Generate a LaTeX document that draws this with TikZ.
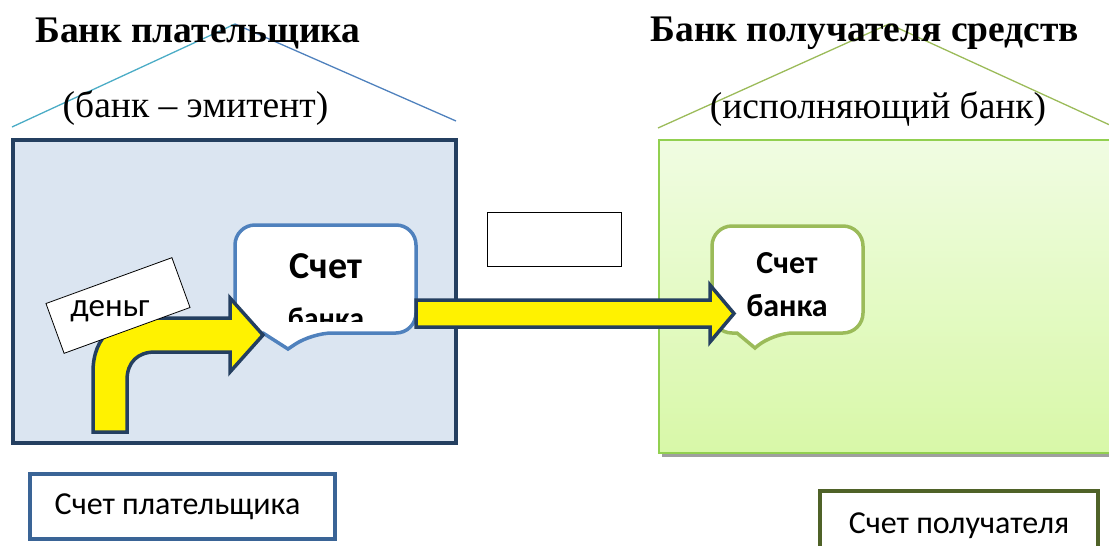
\documentclass[tikz,border=0pt]{standalone}
\usepackage{fontspec}
\setmainfont{Liberation Serif}
\newfontfamily\calib{Carlito}
\definecolor{navy}{HTML}{243F60}
\definecolor{payfill}{HTML}{DBE5F1}
\definecolor{roofteal}{HTML}{4BACC6}
\definecolor{roofblue}{HTML}{4F81BD}
\definecolor{leafgreen}{HTML}{9BBB59}
\definecolor{brightgreen}{HTML}{92D050}
\definecolor{greentop}{HTML}{F0FCE2}
\definecolor{greenbot}{HTML}{D8F8A8}
\definecolor{accblue}{HTML}{3A6496}
\definecolor{olive}{HTML}{4F6228}
\tikzset{
  title/.style={font=\fontsize{37.5}{42}\selectfont\bfseries, inner sep=0pt},
  subtitle/.style={font=\fontsize{37.5}{42}\selectfont, inner sep=0pt},
  blockarrow/.style={fill=yellow, draw=navy, line width=3.5pt, line join=miter},
  calloutbox/.style={fill=white, line width=3.5pt, rounded corners=20pt},
  accbox/.style={draw, fill=white, line width=3.5pt, inner sep=0pt},
  acctext/.style={font=\calib\fontsize{32}{36}\selectfont, inner sep=0pt},
}
\begin{document}
\begin{tikzpicture}[x=1pt,y=-1pt]
\useasboundingbox (0,0) rectangle (1109,546);
\clip (0,0) rectangle (1109,546);

% payer's bank: roof and body
\coordinate (lroofL) at (12,127);
\coordinate (lroofT) at (235,24);
\coordinate (lroofR) at (456,121);
\draw[roofteal, line width=1.3pt] (lroofL) -- (lroofT);
\draw[roofblue, line width=1.3pt] (lroofT) -- (lroofR);
\node[draw=navy, fill=payfill, line width=4pt, minimum width=443pt, minimum height=303pt, inner sep=0pt] (payer) at (234.5,291.5) {};

% payee's bank: roof and body
\coordinate (rroofL) at (658,128);
\coordinate (rroofT) at (889,24);
\coordinate (rroofR) at (1112,126);
\draw[leafgreen, line width=1.3pt] (rroofL) -- (rroofT) -- (rroofR);
\fill[gray!75] (662,142) rectangle (1115,457);
\shade[top color=greentop, bottom color=greenbot] (659,140) rectangle (1115,453);
\draw[brightgreen, line width=1.8pt] (1115,140) -- (659,140) -- (659,453) -- (1115,453);
\node[inner sep=0pt, minimum width=456pt, minimum height=313pt] (payee) at (887,296.5) {};

% titles
\node[title] (t1) at (198,33) {Банк плательщика};
\node[subtitle] (s1) at (195.5,108) {(банк – эмитент)};
\node[title] (t2) at (865,33) {Банк получателя средств};
\node[subtitle] (s2) at (878,109) {(исполняющий банк)};

% empty frame between the banks
\node[draw=black, fill=white, line width=0.8pt, minimum width=134pt, minimum height=54pt, inner sep=0pt] (gap) at (554,239) {};

% bank account callout of the payer's bank
\draw[calloutbox, draw=roofblue] (263,333) -- (235,333) -- (235,225) -- (416,225) -- (416,333) -- (312,333)
  [sharp corners] -- (288,349) -- (263,333) -- cycle;
\node[font=\calib\fontsize{38}{42}\selectfont\bfseries, inner sep=0pt] (cb1) at (326,266) {Счет};
\begin{scope}
  \clip (236,226) rectangle (415,321);
  \node[font=\calib\fontsize{30}{34}\selectfont\bfseries, inner sep=0pt, anchor=base] (cb1b) at (326,328) {банка};
\end{scope}

% bank account callout of the payee's bank
\draw[calloutbox, draw=leafgreen] (737,333) -- (712,333) -- (712,226) -- (863,226) -- (863,333) -- (773,333)
  [sharp corners] -- (755,348) -- (737,333) -- cycle;
\node[font=\calib\fontsize{32}{36}\selectfont\bfseries, inner sep=0pt] (cb2) at (787,263) {Счет};
\node[font=\calib\fontsize{32}{36}\selectfont\bfseries, inner sep=0pt] (cb2b) at (787,306) {банка};

% bent arrow into the payer's bank account
\draw[blockarrow] (93,432) -- (93,372) .. controls (93,336) and (116,318) .. (150,318)
  -- (230,318) -- (230,298) -- (263,335) -- (230,372) -- (230,352) -- (155,352)
  .. controls (138,352) and (127,362) .. (127,380) -- (127,432) -- cycle;

% straight arrow between the banks
\draw[blockarrow] (416,300) -- (710,300) -- (710,285) -- (734,313.5) -- (710,342) -- (710,327) -- (416,327) -- cycle;

% money label
\node[draw=black, fill=white, line width=0.8pt, rotate=20, minimum width=134pt, minimum height=53pt, inner sep=0pt] (moneybox) at (118,305.5) {};
\node[font=\calib\fontsize{33}{36}\selectfont, inner sep=0pt] (money) at (110,311) {деньг};

% account boxes below
\node[accbox, draw=accblue, minimum width=305pt, minimum height=65pt] (payacc) at (182.5,506.5) {};
\node[acctext] (paytext) at (177.5,507) {Счет плательщика};
\node[accbox, draw=olive, minimum width=278pt, minimum height=80pt] (rcvacc) at (959,531) {};
\node[acctext] (rcvtext) at (959,526) {Счет получателя};
\end{tikzpicture}
\end{document}
